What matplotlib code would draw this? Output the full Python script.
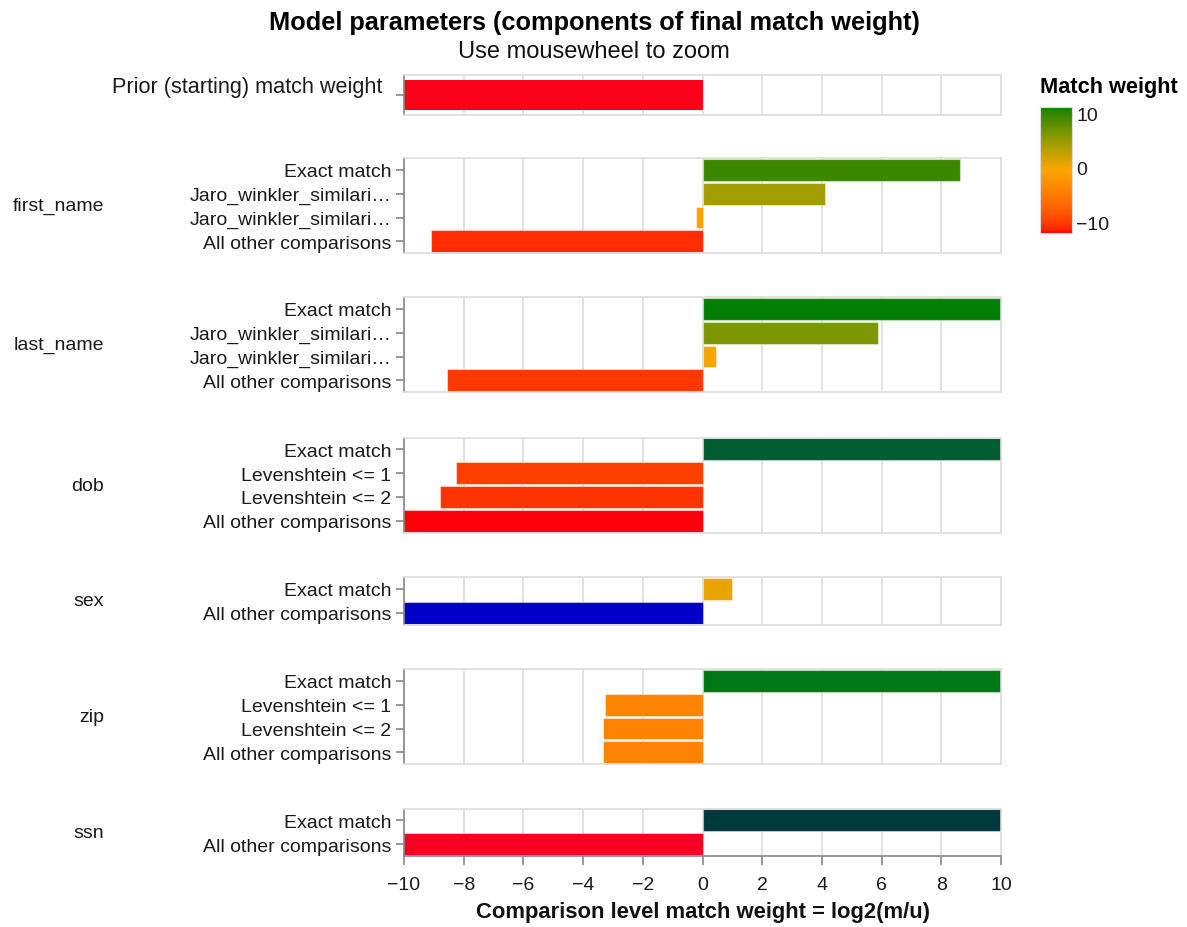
import numpy as np
import matplotlib
matplotlib.use("Agg")
import matplotlib.pyplot as plt

plt.rcParams['font.family'] = ['Liberation Sans', 'DejaVu Sans']

# match weights (log2 Bayes factors) per comparison level
prior_weight = -13.3

first_name_levels = ["Exact match", "Jaro_winkler_similari…", "Jaro_winkler_similari…", "All other comparisons"]
first_name_weights = [8.63, 4.10, -0.21, -9.08]

last_name_levels = ["Exact match", "Jaro_winkler_similari…", "Jaro_winkler_similari…", "All other comparisons"]
last_name_weights = [10.1, 5.87, 0.46, -8.56]

dob_levels = ["Exact match", "Levenshtein <= 1", "Levenshtein <= 2", "All other comparisons"]
dob_weights = [15.0, -8.25, -8.81, -11.2]

sex_levels = ["Exact match", "All other comparisons"]
sex_weights = [0.98, -44.0]

zip_levels = ["Exact match", "Levenshtein <= 1", "Levenshtein <= 2", "All other comparisons"]
zip_weights = [11.3, -3.25, -3.32, -3.33]

ssn_levels = ["Exact match", "All other comparisons"]
ssn_weights = [20.0, -15.5]

comparisons = [
    ("first_name", first_name_levels, first_name_weights),
    ("last_name", last_name_levels, last_name_weights),
    ("dob", dob_levels, dob_weights),
    ("sex", sex_levels, sex_weights),
    ("zip", zip_levels, zip_weights),
    ("ssn", ssn_levels, ssn_weights),
]

# colour scale: red -> orange -> green over [-10, 0, 10], hcl interpolation, not clamped
scale_domain = [-10, 0, 10]
scale_range = [(255, 0, 0), (255, 165, 0), (0, 128, 0)]

XN, ZN = 0.96422, 0.82521
T0, T1 = 4 / 29, 6 / 29
T2, T3 = 3 * T1 * T1, T1 ** 3


def rgb_to_hcl(rgb):
    c = np.asarray(rgb, float) / 255
    r, g, b = np.where(c <= 0.04045, c / 12.92, ((c + 0.055) / 1.055) ** 2.4)

    def f(t):
        return np.cbrt(t) if t > T3 else t / T2 + T0

    y = f(0.2225045 * r + 0.7168786 * g + 0.0606169 * b)
    x = f((0.4360747 * r + 0.3850649 * g + 0.1430804 * b) / XN)
    z = f((0.0139322 * r + 0.0971045 * g + 0.7141733 * b) / ZN)
    L, A, B = 116 * y - 16, 500 * (x - y), 200 * (y - z)
    return np.degrees(np.arctan2(B, A)) % 360, np.hypot(A, B), L


def hcl_to_rgb(h, c, l):
    a = np.cos(np.radians(h)) * c
    b = np.sin(np.radians(h)) * c
    y = (l + 16) / 116
    x = y + a / 500
    z = y - b / 200

    def g(t):
        return t ** 3 if t > T1 else T2 * (t - T0)

    X, Y, Z = XN * g(x), g(y), ZN * g(z)
    lin = np.array([
        3.1338561 * X - 1.6168667 * Y - 0.4906146 * Z,
        -0.9787684 * X + 1.9161415 * Y + 0.0334540 * Z,
        0.0719453 * X - 0.2289914 * Y + 1.4052427 * Z,
    ])
    srgb = np.where(lin <= 0.0031308, 12.92 * lin,
                    1.055 * np.maximum(lin, 0) ** (1 / 2.4) - 0.055)
    return tuple(np.clip(np.round(srgb * 255), 0, 255) / 255)


stops = [rgb_to_hcl(c) for c in scale_range]


def weight_color(v):
    i = 0 if v <= scale_domain[1] else 1
    d0, d1 = scale_domain[i], scale_domain[i + 1]
    (h0, c0, l0), (h1, c1, l1) = stops[i], stops[i + 1]
    t = (v - d0) / (d1 - d0)
    dh = h1 - h0
    if abs(dh) > 180:
        dh -= 360 * round(dh / 360)
    return hcl_to_rgb(h0 + t * dh, c0 + t * (c1 - c0), l0 + t * (l1 - l0))


W, H = 1187, 928
fig = plt.figure(figsize=(W / 100, H / 100), dpi=100)

X0, X1 = 404, 1001


def panel(top, bottom):
    return fig.add_axes([X0 / W, 1 - bottom / H, (X1 - X0) / W, (bottom - top) / H])


def style(ax, last=False):
    ax.set_xlim(-10, 10)
    ax.set_xticks(range(-10, 11, 2))
    ax.grid(axis='x', color='#dddddd', lw=1.2)
    ax.set_axisbelow(True)
    for s in ax.spines.values():
        s.set_color('#dddddd')
        s.set_linewidth(1.2)
    ax.spines['left'].set_color('#888888')
    ax.tick_params(axis='y', length=6, width=1.2, color='#888888',
                   labelsize=14, labelcolor='#1a1a1a', pad=3)
    if last:
        ax.spines['bottom'].set_color('#888888')
        ax.tick_params(axis='x', length=6.5, width=1.2, color='#888888',
                       labelsize=14, labelcolor='#1a1a1a', pad=8)
    else:
        ax.tick_params(axis='x', length=0, labelbottom=False)


# prior panel
ax = panel(76, 116)
ax.barh([0], [prior_weight], height=0.75, color=weight_color(prior_weight))
ax.set_ylim(0.5, -0.5)
style(ax)
ax.set_yticks([0])
ax.set_yticklabels([""])
fig.text(382 / W, 1 - 87 / H, "Prior (starting) match weight", ha='right', va='center',
         fontsize=15.6, color='#1a1a1a')

# one panel per comparison column
panel_tops = [159, 298, 438.5, 578, 670, 809.5]
row_h = 23.8
for k, ((name, levels, weights), top) in enumerate(zip(comparisons, panel_tops)):
    n = len(levels)
    bottom = top + n * row_h
    ax = panel(top, bottom)
    pos = np.arange(n)
    ax.barh(pos, weights, height=0.92, color=[weight_color(w) for w in weights],
            edgecolor=(1, 1, 1, 0.45), linewidth=0.8)
    ax.set_ylim(n - 0.5, -0.5)
    style(ax, last=(k == len(comparisons) - 1))
    ax.set_yticks(pos)
    ax.set_yticklabels(levels)
    fig.text(104 / W, 1 - (top + bottom) / 2 / H, name, ha='right', va='center',
             fontsize=14, color='#1a1a1a')

fig.text((X0 + X1) / 2 / W, 1 - 913 / H, "Comparison level match weight = log2(m/u)",
         ha='center', va='center', fontsize=15.8, fontweight='bold', color='#111111')

fig.text(594 / W, 1 - 23 / H, "Model parameters (components of final match weight)",
         ha='center', va='center', fontsize=18.3, fontweight='bold', color='#000000')
fig.text(594 / W, 1 - 52 / H, "Use mousewheel to zoom", ha='center', va='center',
         fontsize=17, color='#111111')

# gradient legend
cb_l, cb_r, cb_t, cb_b = 1040, 1072, 108, 234
cax = fig.add_axes([cb_l / W, 1 - cb_b / H, (cb_r - cb_l) / W, (cb_b - cb_t) / H])
grad_vals = np.linspace(scale_domain[-1], scale_domain[0], 200)
grad = np.array([[weight_color(v)] for v in grad_vals])
cax.imshow(grad, aspect='auto', extent=[0, 1, scale_domain[0], scale_domain[-1]])
cax.set_xticks([])
cax.set_yticks([])
for s in cax.spines.values():
    s.set_color('#dddddd')
    s.set_linewidth(0.8)
fig.text(cb_l / W, 1 - 87 / H, "Match weight", ha='left', va='center',
         fontsize=15.7, fontweight='bold', color='#000000')
for val, va in zip(scale_domain, ['bottom', 'center', 'top']):
    frac = (val - scale_domain[0]) / (scale_domain[-1] - scale_domain[0])
    ypx = cb_b - frac * (cb_b - cb_t)
    fig.text(1076 / W, 1 - ypx / H, f"{val}".replace("-", "\u2212"), ha='left', va=va,
             fontsize=14, color='#1a1a1a')

fig.savefig("out.png", dpi=100, facecolor='white')
